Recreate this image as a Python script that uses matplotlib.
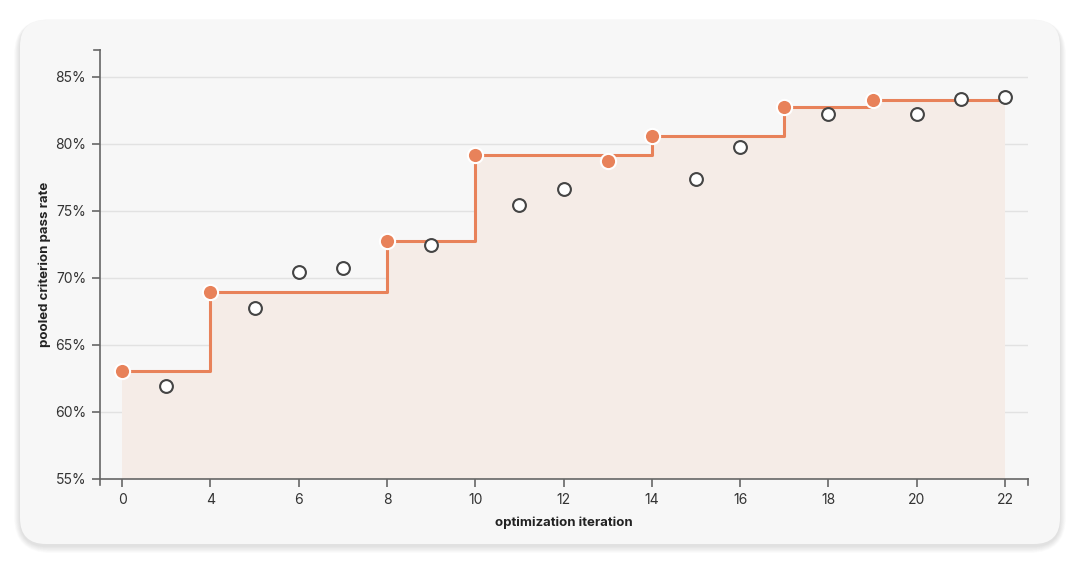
import numpy as np
import matplotlib
matplotlib.use("Agg")
import matplotlib.pyplot as plt
from matplotlib.patches import FancyBboxPatch
from matplotlib.ticker import FuncFormatter

plt.rcParams["font.family"] = ["Inter", "DejaVu Sans"]

# iteration labels (ordinal axis, every other label shown)
ITERS = ["0", "2", "4", "5", "6", "7", "8", "9", "10", "11", "12", "13",
         "14", "15", "16", "17", "18", "19", "20", "21", "22"]
# pooled pass rate (%) per iteration
RATE = [63.06, 61.94, 68.96, 67.76, 70.45, 70.75, 72.76, 72.46, 79.18, 75.45,
        76.64, 78.73, 80.6, 77.35, 79.78, 82.76, 82.24, 83.28, 82.24, 83.36, 83.5]
# accepted candidates (filled markers)
ACCEPTED = [1, 0, 1, 0, 0, 0, 1, 0, 1, 0, 0, 1, 1, 0, 0, 1, 0, 1, 0, 0, 0]
Y_TICKS = [55, 60, 65, 70, 75, 80, 85]

ORANGE = "#E8825A"
FILL = "#F5ECE7"
CARD = "#F7F7F7"

W, H = 1080, 564
fig = plt.figure(figsize=(W / 100, H / 100), dpi=100)
fig.patch.set_facecolor("white")

# card with soft shadow
bg = fig.add_axes([0, 0, 1, 1])
bg.set_xlim(0, W); bg.set_ylim(H, 0); bg.axis("off")
for i in range(10, 0, -1):
    bg.add_patch(FancyBboxPatch((20 - i * 0.6, 20 - i * 0.3 + 2), 1040 + i * 1.2, 524 + i * 1.0,
                                boxstyle="round,pad=0,rounding_size=%d" % (26 + i),
                                fc="black", ec="none", alpha=0.012))
bg.add_patch(FancyBboxPatch((20, 20), 1040, 524, boxstyle="round,pad=0,rounding_size=26",
                            fc=CARD, ec="none"))

# plot area: x 100..1028, y 50..479
ax = fig.add_axes([100 / W, 1 - 479 / H, 928 / W, 429 / H])
ax.set_facecolor("none")

x = np.arange(len(RATE))
rate = np.array(RATE)
acc = np.array(ACCEPTED, dtype=bool)
best = np.maximum.accumulate(np.where(acc, rate, -np.inf))

ax.set_xlim(-0.5, len(x) - 0.48)
ax.set_ylim(55, 87)

for t in Y_TICKS[1:]:
    ax.axhline(t, color="#E2E2E2", lw=1, zorder=0)

ax.fill_between(x, best, 55, step="post", color=FILL, lw=0, zorder=1)
ax.step(x, best, where="post", color=ORANGE, lw=2.2, zorder=2)

ax.scatter(x[~acc], rate[~acc], s=85, facecolor="white", edgecolor="#444444",
           linewidth=1.5, zorder=3)
ax.scatter(x[acc], rate[acc], s=120, facecolor=ORANGE, edgecolor="white",
           linewidth=1.5, zorder=4)

for s in ["top", "right"]:
    ax.spines[s].set_visible(False)
for s in ["left", "bottom"]:
    ax.spines[s].set_color("#666666")
    ax.spines[s].set_linewidth(1.2)

ax.set_yticks(Y_TICKS)
ax.yaxis.set_major_formatter(FuncFormatter(lambda v, p: f"{v:.0f}%"))
ax.set_xticks(x[::2])
ax.set_xticklabels(ITERS[::2])
ax.tick_params(axis="both", colors="#666666", labelcolor="#333333", labelsize=10,
               length=6, width=1.2, pad=4)

# outer ticks at domain ends
ax.plot([-0.5, -0.5], [55, 55 - 6 * 32 / 429], color="#666666", lw=1.2, clip_on=False)
ax.plot([len(x) - 0.48] * 2, [55, 55 - 6 * 32 / 429], color="#666666", lw=1.2, clip_on=False)
ax.plot([-0.5, -0.5 - 6 * 21 / 928], [87, 87], color="#666666", lw=1.2, clip_on=False)

ax.set_xlabel("optimization iteration", fontsize=9.5, fontweight="bold",
              color="#222222", labelpad=7)
ax.set_ylabel("pooled criterion pass rate", fontsize=9.5, fontweight="bold",
              color="#222222", labelpad=3)

fig.savefig("out.png", dpi=100, facecolor="white")
